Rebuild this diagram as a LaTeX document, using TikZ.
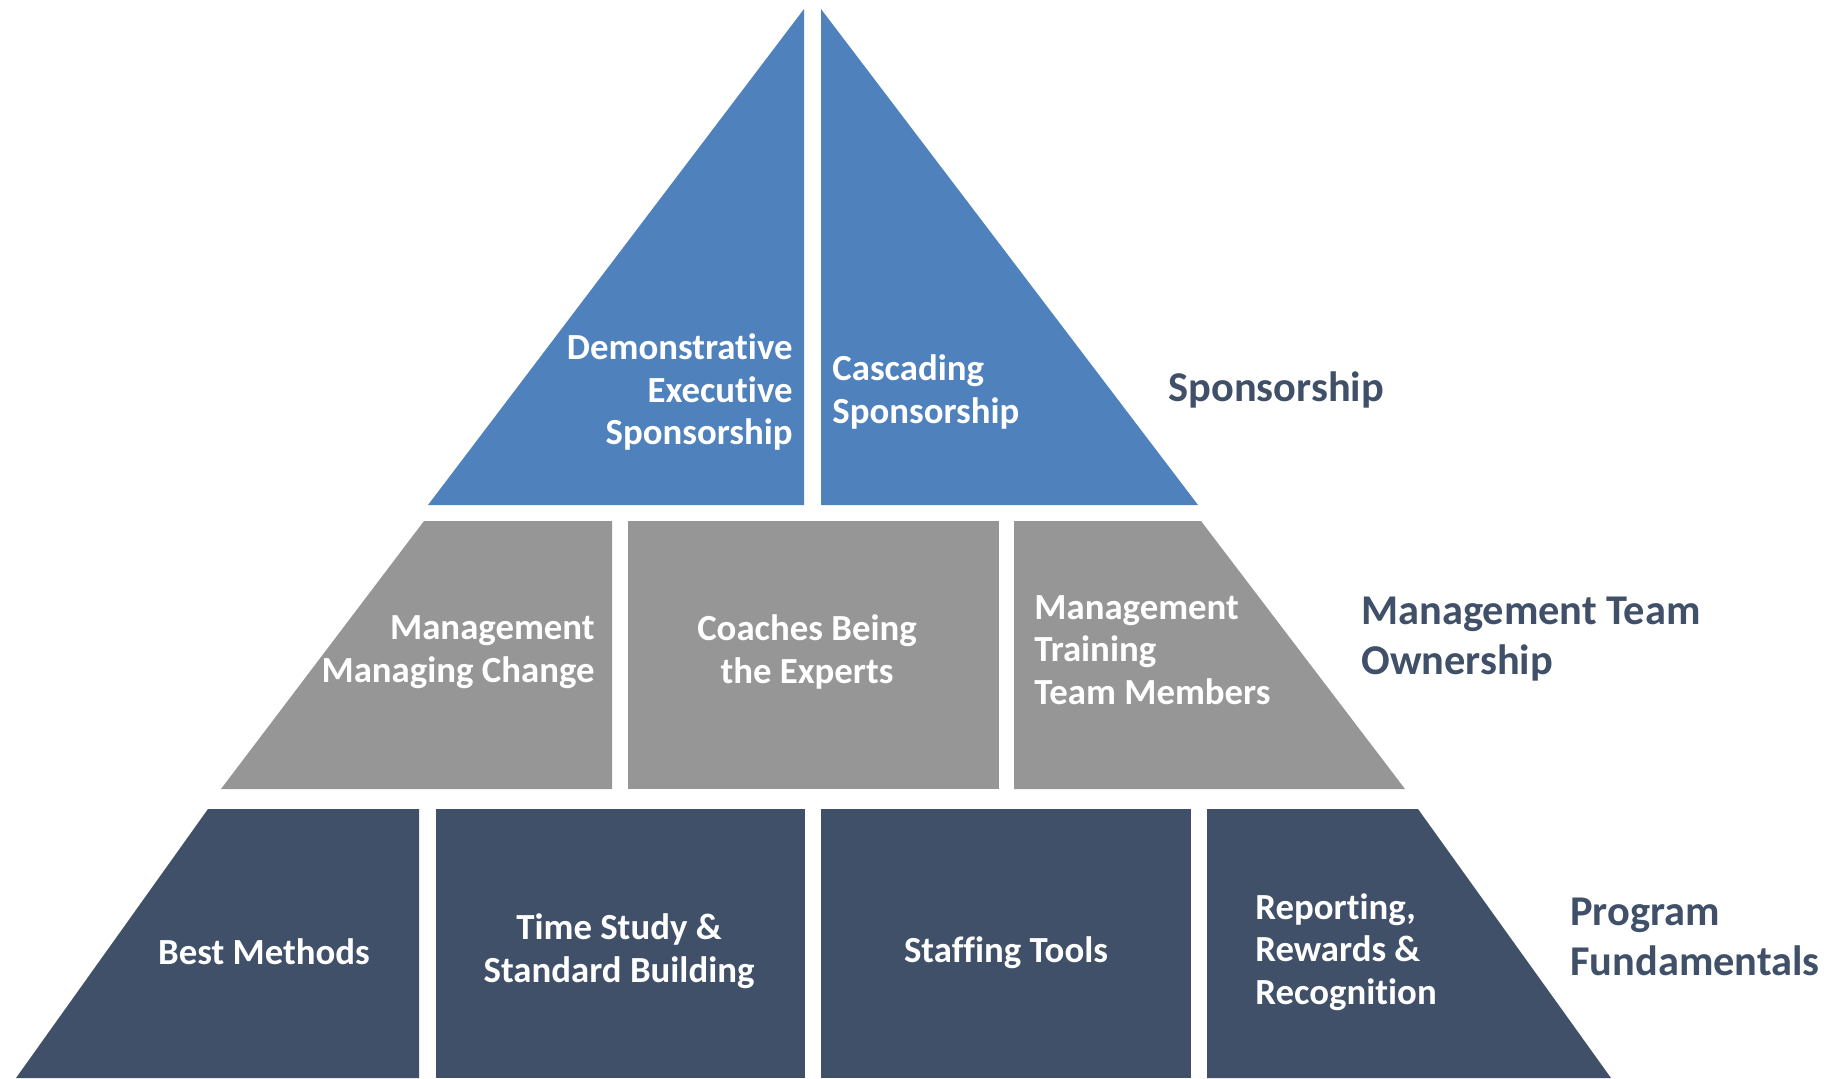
\documentclass[tikz,border=0pt]{standalone}
\usepackage{fontspec}
\setmainfont{Carlito}[Ligatures=NoCommon]

\definecolor{sponsorblue}{HTML}{4F81BD}
\definecolor{ownergray}{HTML}{969696}
\definecolor{basenavy}{HTML}{3F5068}

\begin{document}
\begin{tikzpicture}[
    x=0.5pt,
    y=-0.5pt,
    sponsor/.style={
        fill=sponsorblue
    },
    owner/.style={
        fill=ownergray
    },
    fundamental/.style={
        fill=basenavy
    },
    blocktext/.style={
        text=white,
        font=\fontsize{18.4}{21.2}\selectfont\bfseries,
        inner sep=0pt
    },
    tiertext/.style={
        text=basenavy,
        font=\fontsize{21.2}{25.2}\selectfont\bfseries,
        inner sep=0pt,
        anchor=west,
        align=left
    }
]

\useasboundingbox (0,0) rectangle (1841,1078);

%%%%%%%%%%%%%%%%%%%%%%%%%%%%%%%%%%%%%%%%%%%%%%%%%%%%
%% Top tier
%%%%%%%%%%%%%%%%%%%%%%%%%%%%%%%%%%%%%%%%%%%%%%%%%%%%

\fill[sponsor] (804,9) -- (428,505) -- (804,505) -- cycle;
\fill[sponsor] (821,9) -- (821,505) -- (1198,505) -- cycle;

\node[blocktext,anchor=east,align=right] (demo) at (793,392)
{Demonstrative\\Executive\\Sponsorship};

\node[blocktext,anchor=west,align=left] (cascade) at (832,392)
{Cascading\\Sponsorship};

%%%%%%%%%%%%%%%%%%%%%%%%%%%%%%%%%%%%%%%%%%%%%%%%%%%%
%% Middle tier
%%%%%%%%%%%%%%%%%%%%%%%%%%%%%%%%%%%%%%%%%%%%%%%%%%%%

\fill[owner] (424,521) -- (612,521) -- (612,789) -- (221,789) -- cycle;
\fill[owner] (628,521) rectangle (999,789);
\fill[owner] (1014,521) -- (1201,521) -- (1405,789) -- (1014,789) -- cycle;

\node[blocktext,anchor=east,align=right] (mgmtchange) at (595,652)
{Management\\Managing Change};

\node[blocktext,align=center] (coaches) at (807,652)
{Coaches Being\\the Experts};

\node[blocktext,anchor=west,align=left] (mgmttrain) at (1034,650)
{Management\\Training\\Team Members};

%%%%%%%%%%%%%%%%%%%%%%%%%%%%%%%%%%%%%%%%%%%%%%%%%%%%
%% Bottom tier
%%%%%%%%%%%%%%%%%%%%%%%%%%%%%%%%%%%%%%%%%%%%%%%%%%%%

\fill[fundamental] (208,809) -- (419,809) -- (419,1078) -- (16,1078) -- cycle;
\fill[fundamental] (436,809) rectangle (805,1078);
\fill[fundamental] (821,809) rectangle (1191,1078);
\fill[fundamental] (1207,809) -- (1418,809) -- (1611,1078) -- (1207,1078) -- cycle;

\node[blocktext,align=center] (bestmeth) at (264,952)
{Best Methods};

\node[blocktext,align=center] (timestudy) at (619,951)
{Time Study \&\\Standard Building};

\node[blocktext,align=center] (staffing) at (1006,953)
{Staffing Tools};

\node[blocktext,anchor=west,align=left] (reporting) at (1255,952)
{Reporting,\\Rewards \&\\Recognition};

%%%%%%%%%%%%%%%%%%%%%%%%%%%%%%%%%%%%%%%%%%%%%%%%%%%%
%% Tier labels
%%%%%%%%%%%%%%%%%%%%%%%%%%%%%%%%%%%%%%%%%%%%%%%%%%%%

\node[tiertext] (sponsorship) at (1168,390)
{Sponsorship};

\node[tiertext] (ownership) at (1361,639)
{Management Team\\Ownership};

\node[tiertext] (fundamentals) at (1570,937)
{Program\\Fundamentals};

\end{tikzpicture}
\end{document}
